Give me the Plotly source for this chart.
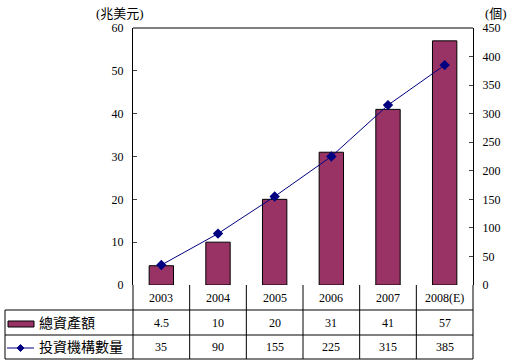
import plotly.graph_objects as go

years = ["2003", "2004", "2005", "2006", "2007", "2008(E)"]
assets = [4.5, 10, 20, 31, 41, 57]
institutions = [35, 90, 155, 225, 315, 385]
asset_labels = ["4.5", "10", "20", "31", "41", "57"]
inst_labels = ["35", "90", "155", "225", "315", "385"]
name_assets = "總資產額"
name_inst = "投資機構數量"
left_title = "(兆美元)"
right_title = "(個)"

W, H = 510, 363
X0, X1 = 133, 473
Y0, Y1 = 28, 285
def px(x): return x / W
def py(y): return 1 - y / H

FONT = "Liberation Serif, Noto Sans CJK TC"
BAR = "#993366"
LINE = "#000080"

fig = go.Figure()
fig.add_trace(go.Bar(x=years, y=assets, name=name_assets, marker=dict(color=BAR, line=dict(color="black", width=1)),
                     width=0.43, yaxis="y"))
fig.add_trace(go.Scatter(x=years, y=institutions, name=name_inst, mode="lines+markers",
                         line=dict(color=LINE, width=1), marker=dict(symbol="diamond", size=8, color=LINE),
                         yaxis="y2"))

shapes = []
def line(x0, y0, x1, y1):
    shapes.append(dict(type="line", xref="paper", yref="paper", x0=px(x0), y0=py(y0), x1=px(x1), y1=py(y1),
                       line=dict(color="black", width=1)))
# plot border
line(X0, Y0, X1, Y0)
# table
colw = (X1 - X0) / len(years)
rows = [Y1, 310, 335, 359]
TL = 5
for k in range(len(years) + 1):
    line(X0 + k * colw, Y1, X0 + k * colw, rows[-1])
line(TL, rows[1], TL, rows[-1])
for r in rows[1:]:
    line(TL, r, X1, r)

annotations = []
def text(x, y, s, size=12, xanchor="center"):
    annotations.append(dict(xref="paper", yref="paper", x=px(x), y=py(y), text=s, showarrow=False,
                            xanchor=xanchor, yanchor="middle", font=dict(family=FONT, size=size, color="black")))
for k, yr in enumerate(years):
    cx = X0 + (k + 0.5) * colw
    text(cx, (rows[0] + rows[1]) / 2, yr)
    text(cx, (rows[1] + rows[2]) / 2, asset_labels[k])
    text(cx, (rows[2] + rows[3]) / 2, inst_labels[k])
# legend keys
shapes.append(dict(type="rect", xref="paper", yref="paper", x0=px(8), x1=px(34), y0=py(321), y1=py(327),
                   fillcolor=BAR, line=dict(color="black", width=1)))
shapes.append(dict(type="line", xref="paper", yref="paper", x0=px(7), x1=px(34), y0=py(348), y1=py(348),
                   line=dict(color=LINE, width=1)))
shapes.append(dict(type="path", xref="paper", yref="paper",
                   path=f"M {px(20.5)},{py(344.5)} L {px(24)},{py(348)} L {px(20.5)},{py(351.5)} L {px(17)},{py(348)} Z",
                   fillcolor=LINE, line=dict(color=LINE, width=1)))
text(37, (rows[1] + rows[2]) / 2, name_assets, size=14, xanchor="left")
text(37, (rows[2] + rows[3]) / 2, name_inst, size=14, xanchor="left")
text(120, 13, left_title, size=13)
text(496, 13, right_title, size=13)

fig.update_layout(
    width=W, height=H, margin=dict(l=0, r=0, t=0, b=0, autoexpand=False),
    paper_bgcolor="white", plot_bgcolor="white", showlegend=False,
    font=dict(family=FONT, size=12, color="black"),
    xaxis=dict(domain=[px(X0), px(X1)], range=[-0.5, 5.5], showticklabels=False, ticks="",
               showline=False, showgrid=False, zeroline=False, automargin=False),
    yaxis=dict(domain=[py(Y1), py(Y0)], range=[0, 60], dtick=10, ticks="inside", ticklen=4,
               showline=True, linecolor="black", linewidth=1, showgrid=False, zeroline=False,
               tickfont=dict(family=FONT, size=12), automargin=False, ticklabelstandoff=6),
    yaxis2=dict(overlaying="y", side="right", range=[0, 450], dtick=50, ticks="inside", ticklen=4,
                showline=True, linecolor="black", linewidth=1, showgrid=False, zeroline=False,
                tickfont=dict(family=FONT, size=12), automargin=False, ticklabelstandoff=6),
    shapes=shapes, annotations=annotations, bargap=0.57,
)
fig.write_html("out.html", config={"displayModeBar": False},
               post_script="document.body.style.margin='0';document.body.style.overflow='hidden';")
